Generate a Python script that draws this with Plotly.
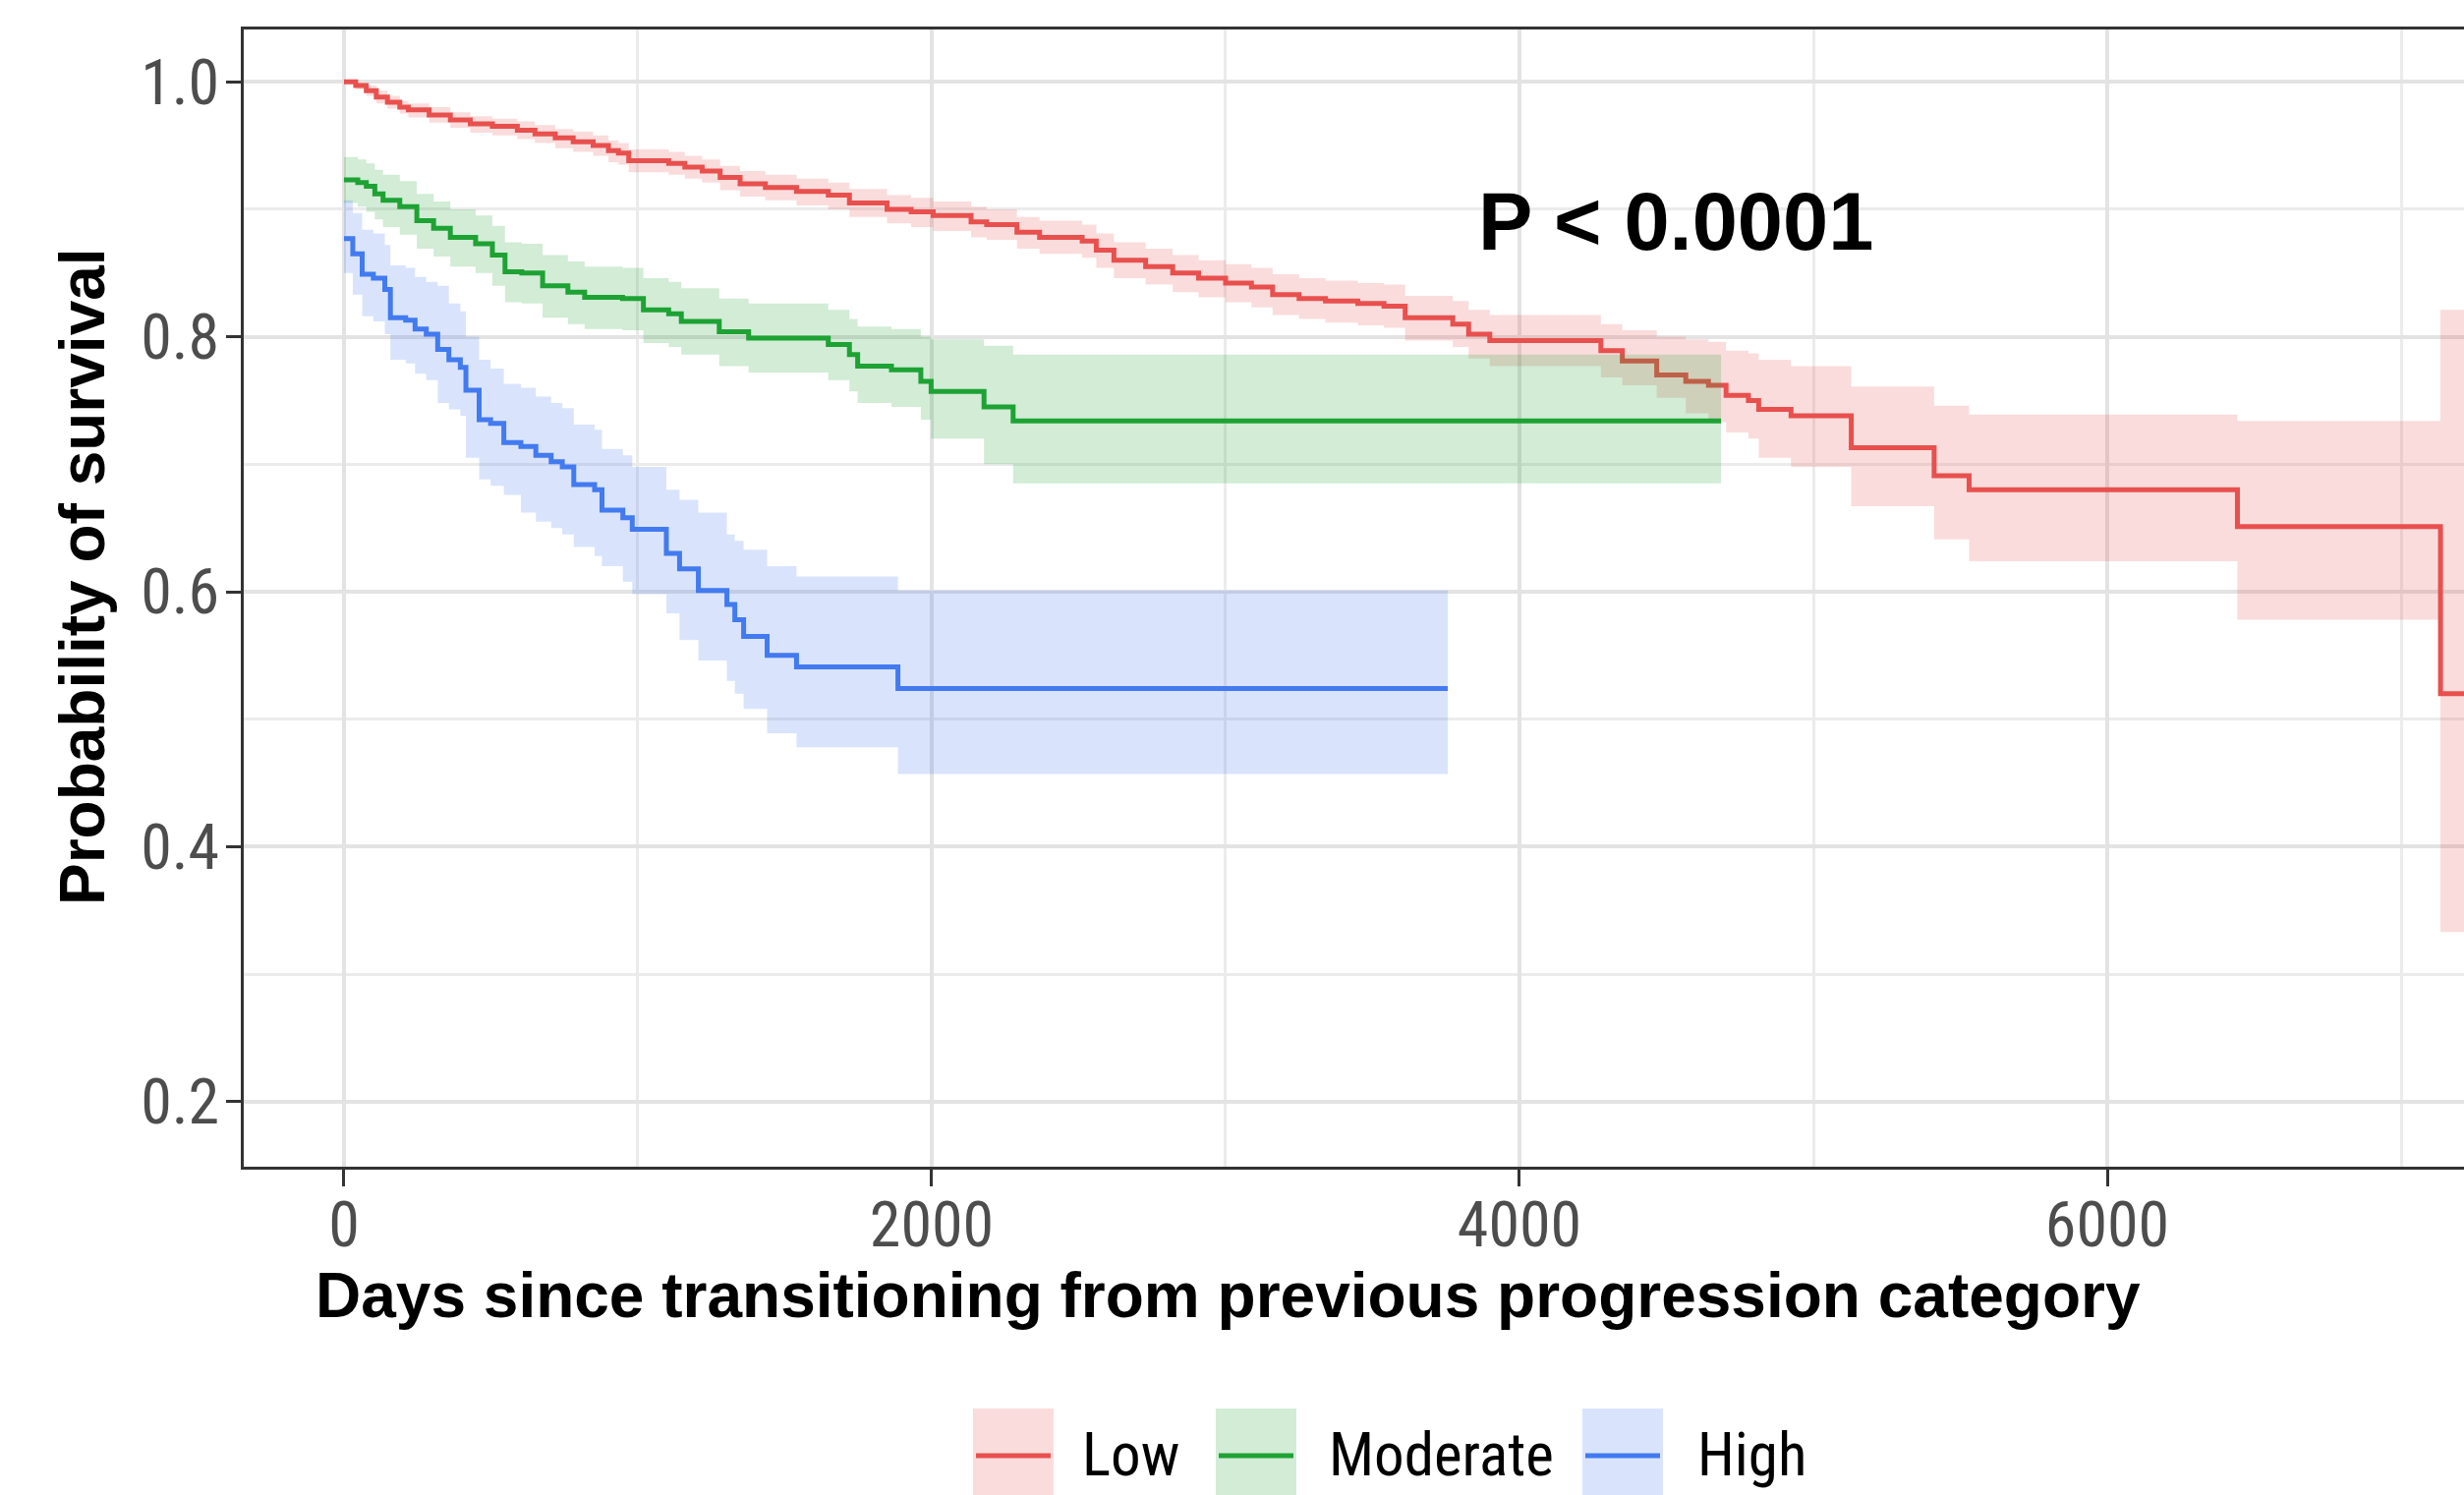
import plotly.graph_objects as go

# ---------------- data ----------------
group_names = ["Low", "Moderate", "High"]

low_t = [0, 40, 76, 110, 148, 190, 219, 290, 362, 430, 505, 590, 650, 719, 780, 848, 900, 934, 969,
         1105, 1160, 1219, 1280, 1348, 1434, 1540, 1648, 1720, 1848, 1930, 2005, 2134, 2187, 2290,
         2367, 2512, 2560, 2620, 2728, 2820, 2908, 3000, 3088, 3160, 3250, 3340, 3450, 3539, 3611,
         3773, 3827, 3899, 4277, 4350, 4467, 4566, 4643, 4703, 4779, 4814, 4924, 5129, 5411, 5530,
         6443, 7134, 7300]
low_s = [1.000, 0.997, 0.993, 0.988, 0.984, 0.980, 0.978, 0.974, 0.970, 0.967, 0.965, 0.962, 0.959,
         0.956, 0.953, 0.950, 0.946, 0.944, 0.938, 0.936, 0.933, 0.930, 0.925, 0.920, 0.917, 0.914,
         0.911, 0.905, 0.900, 0.898, 0.895, 0.890, 0.888, 0.882, 0.878, 0.875, 0.868, 0.860, 0.855,
         0.850, 0.846, 0.842, 0.839, 0.833, 0.830, 0.828, 0.826, 0.824, 0.815, 0.810, 0.802, 0.797,
         0.789, 0.781, 0.770, 0.765, 0.762, 0.754, 0.750, 0.743, 0.738, 0.713, 0.691, 0.680, 0.651,
         0.520, 0.520]
low_up = [1.000, 0.999, 0.997, 0.993, 0.989, 0.985, 0.983, 0.980, 0.976, 0.973, 0.971, 0.969, 0.966,
          0.963, 0.961, 0.958, 0.954, 0.952, 0.947, 0.945, 0.942, 0.939, 0.934, 0.930, 0.927, 0.924,
          0.921, 0.916, 0.911, 0.909, 0.906, 0.902, 0.900, 0.894, 0.891, 0.888, 0.881, 0.874, 0.869,
          0.864, 0.860, 0.857, 0.854, 0.849, 0.846, 0.844, 0.842, 0.841, 0.832, 0.828, 0.821, 0.817,
          0.810, 0.805, 0.800, 0.798, 0.796, 0.789, 0.787, 0.782, 0.777, 0.761, 0.746, 0.739, 0.734,
          0.821, 0.821]
low_lo = [1.000, 0.994, 0.989, 0.983, 0.979, 0.975, 0.972, 0.968, 0.964, 0.960, 0.958, 0.955, 0.952,
          0.948, 0.945, 0.942, 0.937, 0.935, 0.929, 0.927, 0.924, 0.921, 0.915, 0.910, 0.907, 0.903,
          0.900, 0.894, 0.889, 0.886, 0.883, 0.878, 0.876, 0.869, 0.865, 0.862, 0.854, 0.846, 0.841,
          0.835, 0.831, 0.827, 0.823, 0.817, 0.814, 0.811, 0.809, 0.807, 0.797, 0.792, 0.783, 0.777,
          0.768, 0.762, 0.752, 0.740, 0.733, 0.725, 0.720, 0.705, 0.698, 0.667, 0.641, 0.624, 0.578,
          0.333, 0.333]

mod_t = [0, 47, 76, 105, 133, 190, 248, 305, 362, 448, 505, 548, 605, 676, 762, 819, 948, 1019,
         1105, 1148, 1277, 1377, 1648, 1720, 1748, 1863, 1963, 1998, 2178, 2277, 4686]
mod_s = [0.923, 0.921, 0.918, 0.912, 0.907, 0.902, 0.891, 0.885, 0.878, 0.873, 0.864, 0.851, 0.850,
         0.840, 0.835, 0.831, 0.830, 0.821, 0.818, 0.812, 0.804, 0.799, 0.794, 0.786, 0.777, 0.774,
         0.765, 0.757, 0.745, 0.734, 0.734]
mod_up = [0.941, 0.939, 0.936, 0.931, 0.927, 0.922, 0.912, 0.906, 0.900, 0.895, 0.887, 0.874, 0.873,
          0.864, 0.859, 0.855, 0.854, 0.846, 0.843, 0.838, 0.830, 0.826, 0.821, 0.814, 0.808, 0.806,
          0.800, 0.798, 0.793, 0.786, 0.786]
mod_lo = [0.905, 0.902, 0.898, 0.892, 0.886, 0.880, 0.869, 0.863, 0.855, 0.850, 0.840, 0.827, 0.826,
          0.815, 0.810, 0.806, 0.805, 0.795, 0.792, 0.786, 0.777, 0.772, 0.766, 0.757, 0.748, 0.745,
          0.735, 0.720, 0.700, 0.685, 0.685]

high_t = [0, 30, 62, 100, 139, 158, 210, 242, 280, 319, 357, 396, 415, 460, 499, 544, 602, 653, 705,
          743, 782, 853, 878, 949, 981, 1097, 1142, 1206, 1303, 1330, 1360, 1440, 1540, 1885, 3756]
high_s = [0.877, 0.865, 0.849, 0.846, 0.837, 0.815, 0.813, 0.806, 0.802, 0.790, 0.782, 0.776, 0.758,
          0.735, 0.732, 0.717, 0.714, 0.707, 0.702, 0.698, 0.684, 0.680, 0.664, 0.658, 0.649, 0.630,
          0.618, 0.601, 0.590, 0.578, 0.565, 0.550, 0.541, 0.524, 0.524]
high_up = [0.907, 0.897, 0.884, 0.881, 0.872, 0.856, 0.854, 0.847, 0.843, 0.840, 0.826, 0.820, 0.800,
           0.782, 0.775, 0.763, 0.760, 0.753, 0.748, 0.744, 0.731, 0.727, 0.712, 0.707, 0.698, 0.680,
           0.672, 0.662, 0.645, 0.640, 0.633, 0.620, 0.612, 0.601, 0.601]
high_lo = [0.850, 0.833, 0.816, 0.812, 0.802, 0.782, 0.779, 0.771, 0.766, 0.748, 0.743, 0.738, 0.705,
           0.688, 0.683, 0.676, 0.662, 0.655, 0.650, 0.645, 0.635, 0.628, 0.620, 0.608, 0.598, 0.583,
           0.562, 0.546, 0.530, 0.520, 0.508, 0.489, 0.478, 0.457, 0.457]

x_tickvals = [0, 2000, 4000, 6000]
y_tickvals = [0.2, 0.4, 0.6, 0.8, 1.0]
p_label = "P < 0.0001"
x_title = "Days since transitioning from previous progression category"
y_title = "Probability of survival"

# ---------------- styling ----------------
W, H = 2507, 1521
ML, MR, MT, MB = 248, 0, 30, 334
PW, PH = W - ML - MR, H - MT - MB


def pxx(x):
    return (x - ML) / PW


def pxy(y):
    return (H - MB - y) / PH


line_cols = ["rgb(232,80,78)", "rgb(30,162,52)", "rgb(66,122,240)"]
fill_cols = ["rgba(232,80,78,0.2)", "rgba(30,162,52,0.2)", "rgba(66,122,240,0.2)"]
NARROW = "Liberation Sans Narrow, Arial Narrow, Roboto Condensed, DejaVu Sans Condensed, Liberation Sans, Arial, sans-serif"
BOLD = "Liberation Sans, Arial, Helvetica, sans-serif"

groups = [
    (low_t, low_s, low_up, low_lo),
    (mod_t, mod_s, mod_up, mod_lo),
    (high_t, high_s, high_up, high_lo),
]

fig = go.Figure()
for i, (t, s, up, lo) in enumerate(groups):
    fig.add_trace(go.Scatter(x=t, y=up, mode="lines", line=dict(width=0, shape="hv"),
                             showlegend=False, hoverinfo="skip"))
    fig.add_trace(go.Scatter(x=t, y=lo, mode="lines", line=dict(width=0, shape="hv"),
                             fill="tonexty", fillcolor=fill_cols[i],
                             showlegend=False, hoverinfo="skip"))
    fig.add_trace(go.Scatter(x=t, y=s, mode="lines", name=group_names[i],
                             line=dict(color=line_cols[i], width=5, shape="hv"),
                             showlegend=False))

fig.update_layout(
    width=W, height=H,
    margin=dict(l=ML, r=MR, t=MT, b=MB, pad=0),
    paper_bgcolor="white", plot_bgcolor="white",
    showlegend=False,
    xaxis=dict(range=[-341, 7214], tickvals=x_tickvals, ticktext=[str(v) for v in x_tickvals],
               showgrid=True, gridcolor="#E3E3E3", gridwidth=4,
               minor=dict(dtick=1000, tick0=1000, showgrid=True, gridcolor="#EBEBEB", gridwidth=2.5),
               zeroline=False, showline=True, linecolor="#333333", linewidth=3, mirror=True,
               ticks="outside", ticklen=17, tickwidth=3, tickcolor="#333333",
               ticklabelstandoff=-16,
               tickfont=dict(family=NARROW, size=64, color="#4D4D4D")),
    yaxis=dict(range=[0.149, 1.041], tickvals=y_tickvals, tickformat=".1f",
               showgrid=True, gridcolor="#E3E3E3", gridwidth=4,
               minor=dict(dtick=0.1, tick0=0.1, showgrid=True, gridcolor="#EBEBEB", gridwidth=2.5),
               zeroline=False, showline=True, linecolor="#333333", linewidth=3, mirror=False,
               ticks="outside", ticklen=15, tickwidth=3, tickcolor="#333333",
               ticklabelstandoff=-6,
               tickfont=dict(family=NARROW, size=64, color="#4D4D4D")),
)

annotations = [
    dict(text="<b>" + x_title + "</b>", x=pxx(1249), y=pxy(1318), xref="paper", yref="paper",
         xanchor="center", yanchor="middle", showarrow=False,
         font=dict(family=BOLD, size=64, color="black")),
    dict(text="<b>" + y_title + "</b>", x=pxx(84), y=pxy(587), xref="paper", yref="paper",
         xanchor="center", yanchor="middle", showarrow=False, textangle=-90,
         font=dict(family=BOLD, size=64, color="black")),
    dict(text="<b>" + p_label + "</b>", x=pxx(1705), y=pxy(226), xref="paper", yref="paper",
         xanchor="center", yanchor="middle", showarrow=False,
         font=dict(family=BOLD, size=83, color="black")),
]

# manual legend (keys like ggplot: ribbon-coloured box with line)
key_left = [990, 1237, 1610]
key_w = 82
text_left = [1099, 1350, 1725]
shapes = []
for i in range(3):
    shapes.append(dict(type="rect", xref="paper", yref="paper",
                       x0=pxx(key_left[i]), x1=pxx(key_left[i] + key_w),
                       y0=pxy(1433), y1=pxy(1530),
                       fillcolor=fill_cols[i], line=dict(width=0), layer="above"))
    shapes.append(dict(type="line", xref="paper", yref="paper",
                       x0=pxx(key_left[i] + 3), x1=pxx(key_left[i] + key_w - 3),
                       y0=pxy(1481), y1=pxy(1481),
                       line=dict(color=line_cols[i], width=5), layer="above"))
    annotations.append(dict(text=group_names[i], x=pxx(text_left[i]), y=pxy(1480),
                            xref="paper", yref="paper", xanchor="left", yanchor="middle",
                            showarrow=False, font=dict(family=NARROW, size=61, color="black")))

fig.update_layout(annotations=annotations, shapes=shapes)
fig.write_html("out.html", config={"displayModeBar": False},
               post_script="document.body.style.margin='0';document.body.style.overflow='hidden';")
